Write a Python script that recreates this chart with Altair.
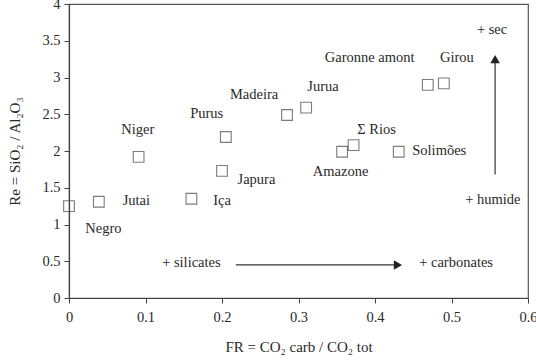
import altair as alt
import pandas as pd

# River samples: FR ratio (x) and Re ratio (y)
rivers = ["Negro", "Jutai", "Niger", "Iça", "Japura", "Purus", "Madeira", "Jurua",
          "Amazone", "Σ Rios", "Solimões", "Garonne amont", "Girou"]
fr = [0.0, 0.039, 0.091, 0.16, 0.20, 0.205, 0.285, 0.31, 0.357, 0.372, 0.431, 0.469, 0.49]
re = [1.25, 1.31, 1.92, 1.35, 1.73, 2.19, 2.49, 2.59, 1.99, 2.08, 1.99, 2.90, 2.92]

# Label anchors in data units
label_x = [0.045, 0.088, 0.09, 0.20, 0.245, 0.18, 0.242, 0.332, 0.355, 0.402, 0.484, 0.393, 0.507]
label_y = [0.94, 1.32, 2.29, 1.32, 1.60, 2.50, 2.76, 2.87, 1.71, 2.29, 2.00, 3.27, 3.27]

# Annotation texts and their anchors
notes = ["+ silicates", "+ carbonates", "+ sec", "+ humide"]
note_x = [0.16, 0.506, 0.553, 0.554]
note_y = [0.48, 0.48, 3.65, 1.33]

# Trend arrows: start and end in data units
arrow_x1 = [0.218, 0.557]
arrow_y1 = [0.45, 1.68]
arrow_x2 = [0.430, 0.557]
arrow_y2 = [0.45, 3.25]
arrow_shape = ["triangle-right", "triangle-up"]

x_ticks = [0, 0.1, 0.2, 0.3, 0.4, 0.5, 0.6]
y_ticks = [0, 0.5, 1, 1.5, 2, 2.5, 3, 3.5, 4]

FONT = "Liberation Serif"
INK = "#2a2a2a"
FS = 14.5

pts = pd.DataFrame({"river": rivers, "fr": fr, "re": re})
labels = pd.DataFrame({"river": rivers, "x": label_x, "y": label_y})
ann = pd.DataFrame({"t": notes, "x": note_x, "y": note_y})
arrows = pd.DataFrame({"x1": arrow_x1, "y1": arrow_y1, "x2": arrow_x2, "y2": arrow_y2,
                       "shape": arrow_shape})

xs = alt.Scale(domain=[0, 0.6], nice=False)
ys = alt.Scale(domain=[0, 4], nice=False)

# Same axis definition shared by every layer so the merged axis keeps it
x_axis = alt.Axis(values=x_ticks, labelExpr="format(datum.value, '.1~f')",
                  title="FR = CO₂ carb / CO₂ tot", grid=False, tickSize=5,
                  labelPadding=7, titlePadding=16, labelOverlap=False, labelFlush=False)
y_axis = alt.Axis(values=y_ticks, labelExpr="format(datum.value, '.1~f')",
                  title="Re = SiO₂ / Al₂O₃", grid=False, tickSize=5,
                  labelPadding=4, titlePadding=19, labelOverlap=False, labelFlush=False)

points = alt.Chart(pts).mark_square(filled=False, size=115, stroke="#444",
                                     strokeWidth=1.1).encode(
    x=alt.X("fr:Q", scale=xs, axis=x_axis),
    y=alt.Y("re:Q", scale=ys, axis=y_axis),
)

names = alt.Chart(labels).mark_text(font=FONT, fontSize=FS, color=INK).encode(
    x=alt.X("x:Q", scale=xs, axis=x_axis), y=alt.Y("y:Q", scale=ys, axis=y_axis),
    text="river:N"
)

notes_layer = alt.Chart(ann).mark_text(font=FONT, fontSize=FS, color=INK).encode(
    x=alt.X("x:Q", scale=xs, axis=x_axis), y=alt.Y("y:Q", scale=ys, axis=y_axis),
    text="t:N"
)

shafts = alt.Chart(arrows).mark_rule(color="#333", strokeWidth=1.2).encode(
    x=alt.X("x1:Q", scale=xs, axis=x_axis), y=alt.Y("y1:Q", scale=ys, axis=y_axis),
    x2="x2:Q", y2="y2:Q"
)

heads = alt.Chart(arrows).mark_point(filled=True, size=90, color="#222", opacity=1).encode(
    x=alt.X("x2:Q", scale=xs, axis=x_axis), y=alt.Y("y2:Q", scale=ys, axis=y_axis),
    shape=alt.Shape("shape:N", scale=None, legend=None)
)

chart = alt.layer(points, shafts, heads, names, notes_layer).properties(
    width=459, height=294,
    autosize=alt.AutoSizeParams(type="none"),
    padding={"left": 69, "top": 4, "right": 8, "bottom": 62},
    background="white",
).configure_view(
    stroke="#555", strokeWidth=1.2
).configure_axis(
    domainColor="#444", tickColor="#444", labelColor=INK, titleColor=INK,
    labelFont=FONT, titleFont=FONT, labelFontSize=FS, titleFontSize=15,
    titleFontWeight="normal", domainWidth=1.2
)

chart.save("out.html", embed_options={"renderer": "svg", "actions": False})
